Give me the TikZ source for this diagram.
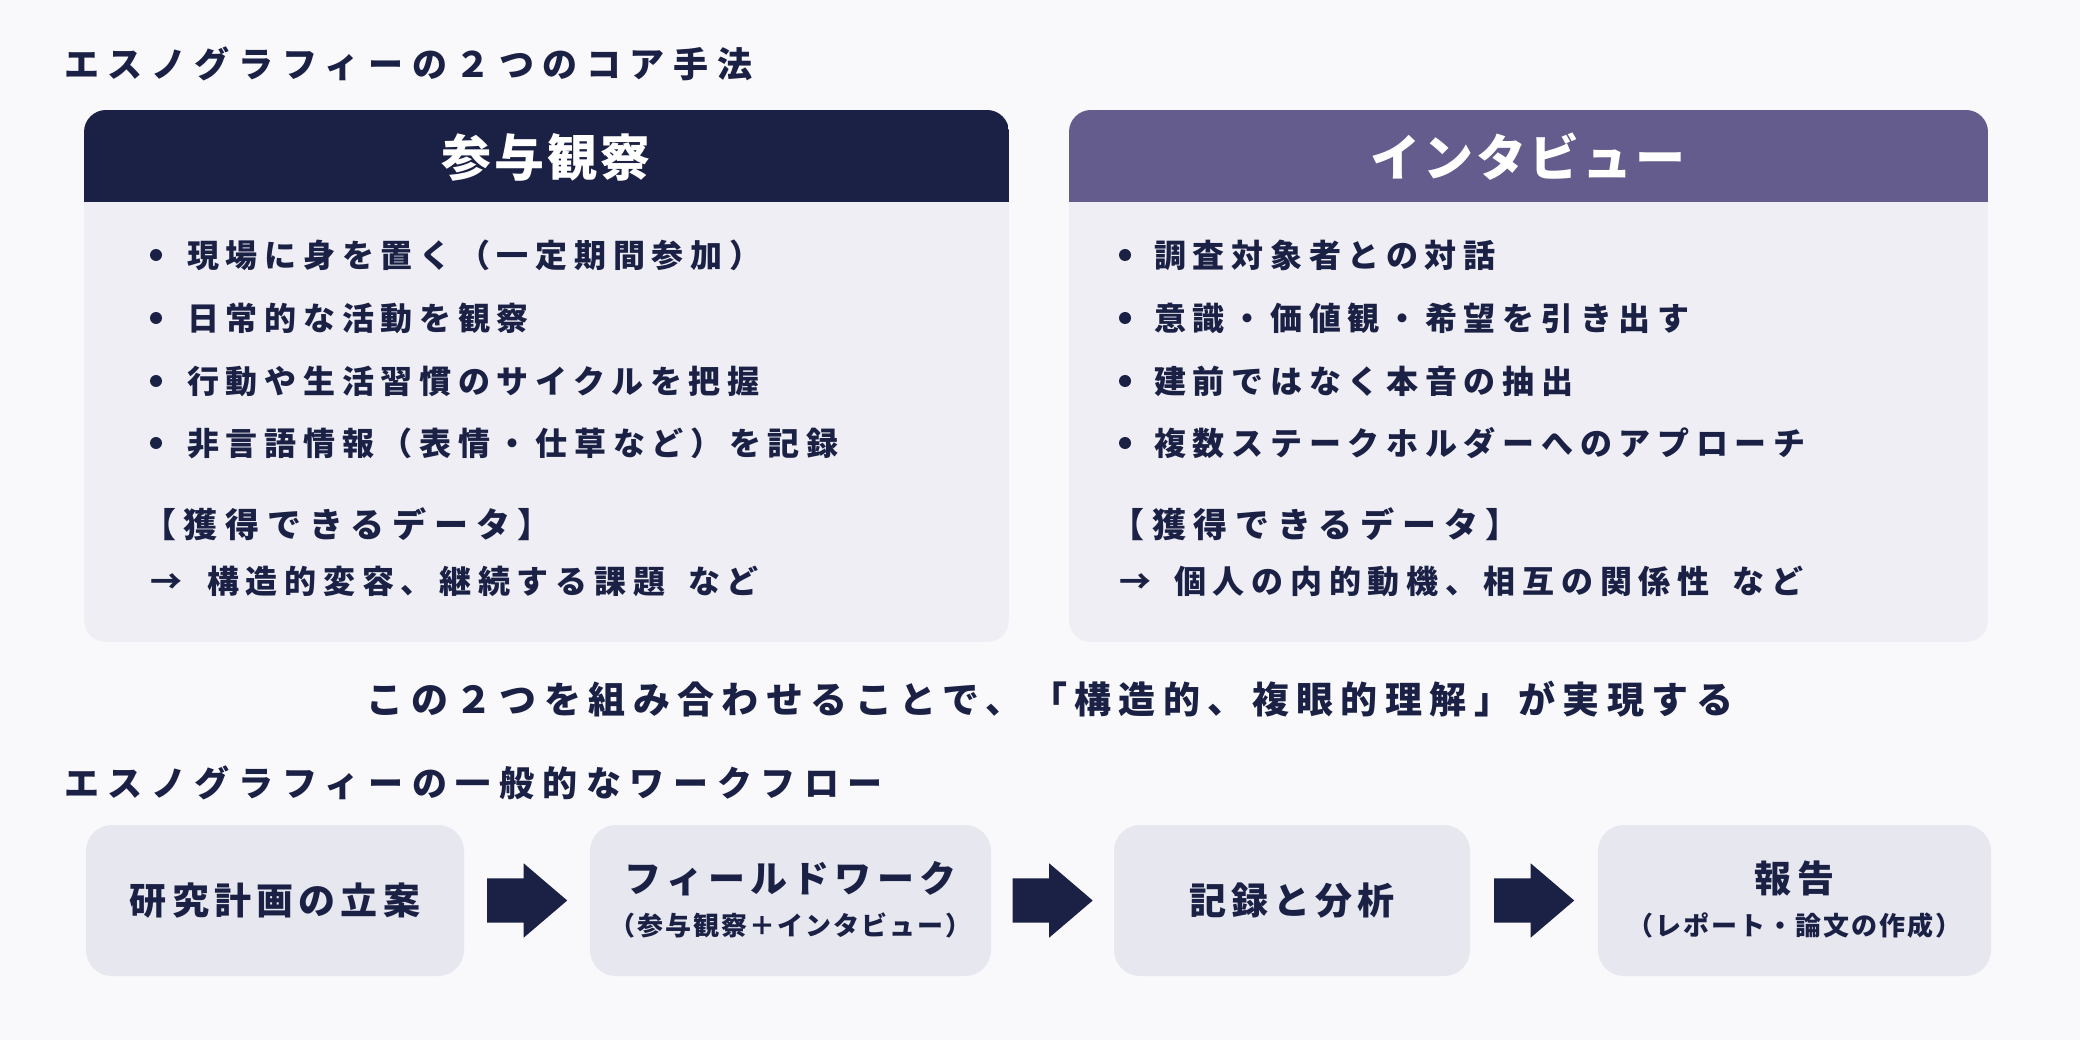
\documentclass[tikz,border=0pt]{standalone}
\usepackage{fontspec}
\setmainfont{Noto Sans CJK JP Black}
\usetikzlibrary{shapes.arrows,calc}
\definecolor{navy}{HTML}{1B2045}
\definecolor{purp}{HTML}{635C8C}
\definecolor{cardbg}{HTML}{EEEEF4}
\definecolor{flowbg}{HTML}{E6E7EF}
\definecolor{pagebg}{HTML}{F9F9FB}
\newcommand\ftitle{\fontsize{35}{40}\selectfont\addfontfeature{LetterSpace=24.5}}
\newcommand\fhead{\fontsize{50}{54}\selectfont\addfontfeature{LetterSpace=6}}
\newcommand\fitem{\fontsize{32}{36}\selectfont\addfontfeature{LetterSpace=21}}
\newcommand\fdata{\fontsize{34}{38}\selectfont\addfontfeature{LetterSpace=23}}
\newcommand\fmid{\fontsize{37}{40}\selectfont\addfontfeature{LetterSpace=20}}
\newcommand\fflow{\fontsize{37}{40}\selectfont\addfontfeature{LetterSpace=14}}
\newcommand\fsub{\fontsize{26}{30}\selectfont\addfontfeature{LetterSpace=8}}
\begin{document}
\begin{tikzpicture}[x=1pt,y=-1pt,
  title/.style={anchor=west,inner sep=0pt,text=navy,font=\ftitle},
  headtxt/.style={inner sep=0pt,text=white,font=\fhead},
  item/.style={anchor=west,inner sep=0pt,text=navy,font=\fitem},
  datatxt/.style={anchor=west,inner sep=0pt,text=navy,font=\fdata},
  midtxt/.style={inner sep=0pt,text=navy,font=\fmid},
  flowbox/.style={fill=flowbg,rounded corners=26pt,minimum height=151pt,inner sep=0pt},
  flowtxt/.style={inner sep=0pt,text=navy,font=\fflow},
  subtxt/.style={inner sep=0pt,text=navy,font=\fsub},
  blockarrow/.style={single arrow,fill=navy,inner xsep=0pt,inner ysep=22pt,anchor=tail,
    minimum height=80pt,single arrow head extend=15pt,single arrow tip angle=81},
  dot/.style={fill=navy}
]
\fill[pagebg] (0,0) rectangle (2080,1040);
\useasboundingbox (0,0) rectangle (2080,1040);

% Title 1
\node[title] (t1) at (64,64) {エスノグラフィーの２つのコア手法};

% Left card
\begin{scope}
\clip[rounded corners=22pt] (84,110) rectangle (1009,642);
\fill[cardbg] (84,110) rectangle (1009,642);
\fill[navy] (84,110) rectangle (1009,202);
\end{scope}
\node[headtxt] (hl) at (546,157) {参与観察};

% Right card
\begin{scope}
\clip[rounded corners=22pt] (1069,110) rectangle (1988,642);
\fill[cardbg] (1069,110) rectangle (1988,642);
\fill[purp] (1069,110) rectangle (1988,202);
\end{scope}
\node[headtxt] (hr) at (1528,157) {インタビュー};

% Left items
\foreach \yy in {255,318,381,443} { \fill[dot] (156,\yy) circle (6pt); }
\node[item] (l1) at (187,255) {現場に身を置く（一定期間参加）};
\node[item] (l2) at (187,318) {日常的な活動を観察};
\node[item] (l3) at (187,381) {行動や生活習慣のサイクルを把握};
\node[item] (l4) at (187,443) {非言語情報（表情・仕草など）を記録};
\node[datatxt] (l5) at (142,524) {【獲得できるデータ】};
\node[item] (l6) at (150,581) {→\hspace{25pt}構造的変容、継続する課題\hspace{23pt}など};

% Right items
\foreach \yy in {255,318,381,443} { \fill[dot] (1125,\yy) circle (6pt); }
\node[item] (r1) at (1154,255) {調査対象者との対話};
\node[item] (r2) at (1154,318) {意識・価値観・希望を引き出す};
\node[item] (r3) at (1154,381) {建前ではなく本音の抽出};
\node[item] (r4) at (1154,443) {複数ステークホルダーへのアプローチ};
\node[datatxt] (r5) at (1110,524) {【獲得できるデータ】};
\node[item] (r6) at (1119,581) {→\hspace{23pt}個人の内的動機、相互の関係性\hspace{23pt}など};

% Middle sentence
\node[midtxt] (mid) at (1050,699) {この２つを組み合わせることで、「構造的、複眼的理解」が実現する};

% Title 2
\node[title] (t2) at (64,783) {エスノグラフィーの一般的なワークフロー};

% Flow
\node[flowbox,minimum width=378pt] (f1) at (275,900.5) {};
\node[flowbox,minimum width=401pt] (f2) at (790.5,900.5) {};
\node[flowbox,minimum width=356pt] (f3) at (1292,900.5) {};
\node[flowbox,minimum width=393pt] (f4) at (1794.5,900.5) {};

\node[flowtxt] (f1t) at (f1.center) {研究計画の立案};
\node[flowtxt] (f2t) at ($(f2.center)+(0,-22)$) {フィールドワーク};
\node[subtxt] (f2s) at ($(f2.center)+(0,25)$) {（参与観察＋インタビュー）};
\node[flowtxt] (f3t) at (f3.center) {記録と分析};
\node[flowtxt] (f4t) at ($(f4.center)+(0,-22)$) {報告};
\node[subtxt] (f4s) at ($(f4.center)+(0,25)$) {（レポート・論文の作成）};

\node[blockarrow] (a1) at ($($(f1.east)!0.5!(f2.west)$)+(-40,0)$) {};
\node[blockarrow] (a2) at ($($(f2.east)!0.5!(f3.west)$)+(-40,0)$) {};
\node[blockarrow] (a3) at ($($(f3.east)!0.5!(f4.west)$)+(-40,0)$) {};
\end{tikzpicture}
\end{document}
